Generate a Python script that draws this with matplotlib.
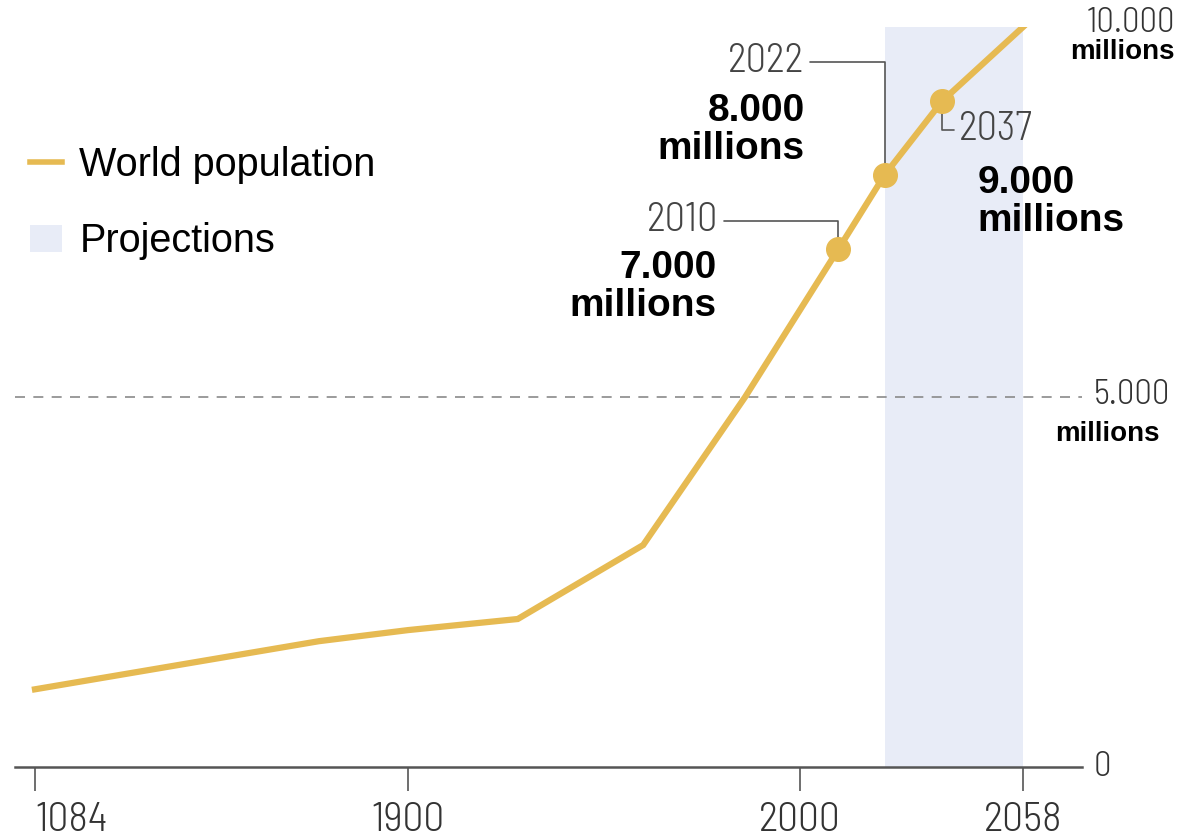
import numpy as np
import matplotlib.pyplot as plt
from matplotlib.lines import Line2D
from matplotlib.patches import Patch

# datos (años, millones de personas)
years = [1084, 1705, 1900, 1928, 1960, 1986, 2010, 2022, 2037, 2058]
population = [1050, 1700, 1850, 2000, 3000, 5000, 7000, 8000, 9000, 10000]
hito_years = [2010, 2022, 2037]
hito_pop = [7000, 8000, 9000]
tick_years = [1084, 1900, 2000, 2058]
proj_start, proj_end = 2022, 2058

gold = '#E6BA52'
proj_color = '#E8ECF7'
thin = dict(family=['Barlow Semi Condensed', 'Open Sans', 'DejaVu Sans'], fontweight=300)
bold = ['Liberation Sans', 'DejaVu Sans']

# escala del eje x: tramos lineales entre los años marcados
seg_pos = np.array([35, 408, 800, 1023], dtype=float)
seg_yr = np.array(tick_years, dtype=float)
s0 = (seg_pos[1] - seg_pos[0]) / (seg_yr[1] - seg_yr[0])
s1 = (seg_pos[-1] - seg_pos[-2]) / (seg_yr[-1] - seg_yr[-2])


def fwd(x):
    x = np.asarray(x, dtype=float)
    y = np.interp(x, seg_yr, seg_pos)
    y = np.where(x < seg_yr[0], seg_pos[0] + (x - seg_yr[0]) * s0, y)
    y = np.where(x > seg_yr[-1], seg_pos[-1] + (x - seg_yr[-1]) * s1, y)
    return y


def inv(p):
    p = np.asarray(p, dtype=float)
    x = np.interp(p, seg_pos, seg_yr)
    x = np.where(p < seg_pos[0], seg_yr[0] + (p - seg_pos[0]) / s0, x)
    x = np.where(p > seg_pos[-1], seg_yr[-1] + (p - seg_pos[-1]) / s1, x)
    return x


fig = plt.figure(figsize=(11.98, 8.39), dpi=100)
ax = fig.add_axes([15 / 1198, (839 - 767) / 839, (1082 - 15) / 1198, 740 / 839])
ax.set_xscale('function', functions=(fwd, inv))
ax.set_xlim(float(inv(15)), float(inv(1082)))
ax.set_ylim(0, 10000)

# zona de proyecciones
ax.axvspan(proj_start, proj_end, color=proj_color, lw=0, zorder=0)
ax.axhline(5000, color='#8a8a8a', lw=1.2, ls=(0, (6, 5)), zorder=1)

ax.plot(years, population, color=gold, lw=4.5, solid_joinstyle='miter', zorder=3)
ax.plot(hito_years, hito_pop, 'o', color=gold, ms=17, zorder=4)

# ejes
for s in ['top', 'right', 'left']:
    ax.spines[s].set_visible(False)
ax.spines['bottom'].set_color('#555555')
ax.spines['bottom'].set_linewidth(1.8)
ax.set_yticks([])
ax.set_xticks(tick_years)
labels = ax.set_xticklabels([str(t) for t in tick_years], fontsize=30, color='#333333', **thin)
labels[0].set_horizontalalignment('left')
labels[0].set_x(tick_years[0])
ax.tick_params(axis='x', length=17, width=1.2, color='#555555', pad=8)
ax.xaxis.set_minor_locator(plt.NullLocator())

# etiquetas del eje derecho
ytr = ax.get_yaxis_transform()
ax.annotate('0', xy=(1, 0), xycoords=ytr, xytext=(12, 0), textcoords='offset pixels',
            ha='left', va='center', fontsize=25, color='#333333', **thin)
ax.annotate('5.000', xy=(1, 5000), xycoords=ytr, xytext=(12, 2), textcoords='offset pixels',
            ha='left', va='center', fontsize=25, color='#333333', **thin)
ax.annotate('millions', xy=(1, 5000), xycoords=ytr, xytext=(78, -37), textcoords='offset pixels',
            ha='right', va='center', family=bold, fontsize=20, fontweight='bold', color='black')
ax.annotate('10.000', xy=(1, 10000), xycoords=ytr, xytext=(93, 4), textcoords='offset pixels',
            ha='right', va='center', fontsize=25, color='#333333', **thin)
ax.annotate('millions', xy=(1, 10000), xycoords=ytr, xytext=(93, -25), textcoords='offset pixels',
            ha='right', va='center', family=bold, fontsize=20, fontweight='bold', color='black')

# anotaciones de los hitos
leader = dict(arrowstyle='-', color='#555555', lw=1.2, shrinkA=2, shrinkB=0,
              connectionstyle='angle,angleA=0,angleB=90,rad=0')
year_off = [(-120, 28), (-80, 113), (17, -29)]
year_rel = [(1, 0.5), (1, 0.5), (0, 0.5)]
val_off = [(-122, -38), (-80, 45), (35, -101)]
for yr, pop, yo, rp, vo in zip(hito_years, hito_pop, year_off, year_rel, val_off):
    ha = 'right' if yo[0] < 0 else 'left'
    ax.annotate(str(yr), xy=(yr, pop), xytext=yo, textcoords='offset pixels',
                ha=ha, va='center', fontsize=29, color='#444444', **thin,
                arrowprops=dict(leader, relpos=rp), zorder=2)
    ax.annotate(f'{pop // 1000}.000\nmillions', xy=(yr, pop), xytext=vo,
                textcoords='offset pixels', ha=ha, va='center', multialignment=ha,
                family=bold, fontsize=28, fontweight='bold', color='black', linespacing=1.1)

# leyenda
handles = [Line2D([0], [0], color=gold, lw=4),
           Patch(facecolor=proj_color, edgecolor='none')]
leg = ax.legend(handles, ['World population', 'Projections'], loc='upper left',
                bbox_to_anchor=(30 / 1198, (839 - 146) / 839), bbox_transform=fig.transFigure,
                frameon=False, prop={'family': bold, 'size': 28.5}, handlelength=0.8,
                handleheight=0.65, handletextpad=0.45, labelspacing=0.97,
                borderaxespad=0, borderpad=0)

fig.savefig('out.png', dpi=100)
